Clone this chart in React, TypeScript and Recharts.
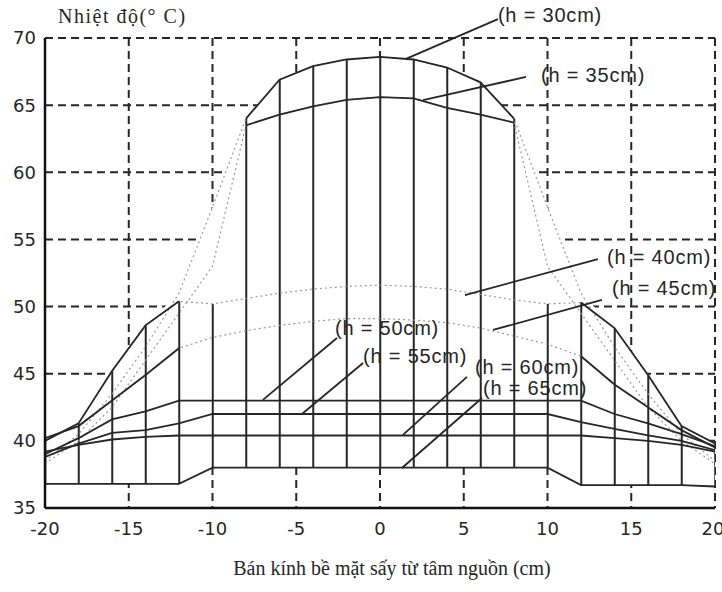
import React from 'react';
import {
  ComposedChart, Line, Area, Bar, XAxis, YAxis, CartesianGrid, ReferenceLine, ReferenceDot,
} from 'recharts';

// radius from the source centre (cm), one point every 2 cm
const radius = [-20, -18, -16, -14, -12, -10, -8, -6, -4, -2, 0, 2, 4, 6, 8, 10, 12, 14, 16, 18, 20];

// temperature (°C) for each height h of the source
const h30 = [38.5, 40.5, 43.5, 47.0, 51.0, 57.4, 64.0, 66.9, 67.9, 68.4, 68.6, 68.4, 67.8, 66.7, 64.0, 57.4, 51.0, 47.0, 43.5, 40.5, 38.5];
const h35 = [38.3, 40.0, 42.5, 46.0, 49.5, 53.0, 63.5, 64.3, 64.9, 65.4, 65.6, 65.5, 64.8, 64.3, 63.7, 53.0, 49.5, 46.0, 42.5, 40.0, 38.3];
const h40 = [40.0, 41.3, 45.2, 48.6, 50.4, 50.2, 50.6, 51.0, 51.3, 51.5, 51.6, 51.5, 51.3, 50.9, 50.5, 50.2, 50.3, 48.4, 44.9, 41.1, 39.8];
const h45 = [40.2, 41.1, 43.0, 44.9, 46.9, 47.7, 48.2, 48.6, 48.9, 49.1, 49.1, 49.0, 48.8, 48.4, 47.8, 47.2, 46.3, 44.2, 42.5, 40.8, 39.5];
const h50 = [39.0, 40.2, 41.6, 42.2, 43.0, 43.0, 43.0, 43.0, 43.0, 43.0, 43.0, 43.0, 43.0, 43.0, 43.0, 43.0, 43.0, 42.0, 41.3, 40.5, 39.6];
const h55 = [38.8, 39.8, 40.6, 40.8, 41.3, 42.0, 42.0, 42.0, 42.0, 42.0, 42.0, 42.0, 42.0, 42.0, 42.0, 42.0, 41.4, 40.9, 40.4, 40.0, 39.3];
const h60 = [39.2, 39.7, 40.1, 40.3, 40.4, 40.4, 40.4, 40.4, 40.4, 40.4, 40.4, 40.4, 40.4, 40.4, 40.4, 40.4, 40.4, 40.2, 40.0, 39.7, 39.2];
const h65 = [36.8, 36.8, 36.8, 36.8, 36.8, 38.0, 38.0, 38.0, 38.0, 38.0, 38.0, 38.0, 38.0, 38.0, 38.0, 38.0, 36.7, 36.7, 36.7, 36.7, 36.6];

const xTicks = [-20, -15, -10, -5, 0, 5, 10, 15, 20];
const yTicks = [35, 40, 45, 50, 55, 60, 65, 70];

// curve labels: text anchor and pointer line, in data units
const labels = [
  { text: '(h = 30cm)', tx: 7.04, ty: 71.7, x1: 7.04, y1: 71.4, x2: 1.55, y2: 68.44 },
  { text: '(h = 35cm)', tx: 9.61, ty: 67.24, x1: 8.72, y1: 67.1, x2: 2.57, y2: 65.38 },
  { text: '(h = 40cm)', tx: 13.55, ty: 53.69, x1: 13.01, y1: 53.54, x2: 5.07, y2: 50.86 },
  { text: '(h = 45cm)', tx: 13.85, ty: 51.38, x1: 13.25, y1: 50.49, x2: 6.75, y2: 48.26 },
  { text: '(h = 50cm)', tx: -2.69, ty: 48.41, x1: -2.57, y1: 47.66, x2: -6.99, y2: 43.05 },
  { text: '(h = 55cm)', tx: -1.01, ty: 46.32, x1: -1.01, y1: 45.8, x2: -4.66, y2: 42.0 },
  { text: '(h = 60cm)', tx: 5.67, ty: 45.5, x1: 5.19, y1: 44.76, x2: 1.37, y2: 40.44 },
  { text: '(h = 65cm)', tx: 6.15, ty: 43.94, x1: 6.09, y1: 43.19, x2: 1.31, y2: 37.98 },
];

const ink = '#262626';

const data = radius.map((x, i) => {
  const all = [h30[i], h35[i], h40[i], h45[i], h50[i], h55[i], h60[i], h65[i]];
  const side = Math.max(h40[i], h45[i], h50[i], h55[i], h60[i]);
  const top = Math.abs(x) <= 8 ? h30[i] : side;
  const front = Math.abs(x) <= 8;
  const edge = Math.abs(x) >= 12;
  return {
    x,
    h30: h30[i], h35: h35[i], h40: h40[i], h45: h45[i],
    h50: h50[i], h55: h55[i], h60: h60[i], h65: h65[i],
    h30f: front ? h30[i] : null,
    h35f: front ? h35[i] : null,
    h40f: edge ? h40[i] : null,
    h45f: edge ? h45[i] : null,
    mesh: [h65[i], top],
    cover: [h65[i], Math.max(...all)],
  };
});

const tickFont = { fontFamily: '"DejaVu Sans", sans-serif', fontSize: 18, fill: ink };
const W = 722;
const H = 592;
const margin = { top: 38, right: 7, bottom: 54, left: 0 };
const layer: React.CSSProperties = { position: 'absolute', left: 0, top: 0 };

export default function App() {
  return (
    <div style={{ position: 'absolute', left: 0, top: 0, width: W, height: H, background: '#fff' }}>
      {/* back layer: dashed grid and tick labels */}
      <div style={layer}>
        <ComposedChart width={W} height={H} data={data} margin={margin}>
          <CartesianGrid stroke={ink} strokeWidth={2} strokeDasharray="8 5" horizontalValues={yTicks} verticalValues={xTicks} />
          <XAxis type="number" dataKey="x" domain={[-20, 20]} ticks={xTicks} allowDataOverflow
            axisLine={false} tickLine={false} tickMargin={8} tick={tickFont} height={30} />
          <YAxis type="number" domain={[35, 70]} ticks={yTicks} allowDataOverflow width={45}
            axisLine={false} tickLine={false} tickMargin={3} tick={tickFont} />
          <Line dataKey="h65" stroke="none" dot={false} isAnimationActive={false} />
        </ComposedChart>
      </div>
      {/* front layer: the mesh hides the grid behind it */}
      <div style={layer}>
        <ComposedChart width={W} height={H} data={data} margin={margin}>
          <XAxis type="number" dataKey="x" domain={[-20, 20]} ticks={xTicks} allowDataOverflow
            stroke="#111" strokeWidth={2.5} tickLine={false} tick={false} height={30} />
          <YAxis type="number" domain={[35, 70]} ticks={yTicks} allowDataOverflow width={45}
            stroke="#111" strokeWidth={2.5} tickLine={false} tick={false} />
          <Area dataKey="cover" type="linear" stroke="none" fill="#fff" fillOpacity={1} isAnimationActive={false} />
          <Bar dataKey="mesh" barSize={2} fill={ink} isAnimationActive={false} />
          {['h30', 'h35', 'h40', 'h45'].map((k) => (
            <Line key={k} dataKey={k} type="linear" stroke="#9a9a9a" strokeWidth={1.2} strokeDasharray="2 3" dot={false} isAnimationActive={false} />
          ))}
          {['h30f', 'h35f', 'h40f', 'h45f', 'h50', 'h55', 'h60', 'h65'].map((k) => (
            <Line key={k} dataKey={k} type="linear" stroke={ink} strokeWidth={1.8} dot={false} isAnimationActive={false} />
          ))}
          {labels.map((l) => (
            <ReferenceLine
              key={'p' + l.text}
              segment={[{ x: l.x1, y: l.y1 }, { x: l.x2, y: l.y2 }]}
              stroke={ink} strokeWidth={1.8} ifOverflow="visible"
            />
          ))}
          {labels.map((l) => (
            <ReferenceDot
              key={'t' + l.text}
              x={l.tx} y={l.ty} r={0} ifOverflow="visible"
              shape={(p: any) => (
                <text x={p.cx} y={p.cy} dominantBaseline="central" fontFamily='"Liberation Sans", sans-serif' fontSize={20} letterSpacing={0.8} fill={ink}>
                  {l.text}
                </text>
              )}
            />
          ))}
        </ComposedChart>
      </div>
      <div style={{ position: 'absolute', left: 58, top: 5, fontFamily: '"Liberation Serif", serif', fontSize: 20, letterSpacing: 1.5, color: ink }}>
        Nhiệt độ(° C)
      </div>
      <div style={{ position: 'absolute', left: 0, width: 784, top: 557, textAlign: 'center', fontFamily: '"Liberation Serif", serif', fontSize: 20, color: ink }}>
        Bán kính bề mặt sấy từ tâm nguồn (cm)
      </div>
    </div>
  );
}
